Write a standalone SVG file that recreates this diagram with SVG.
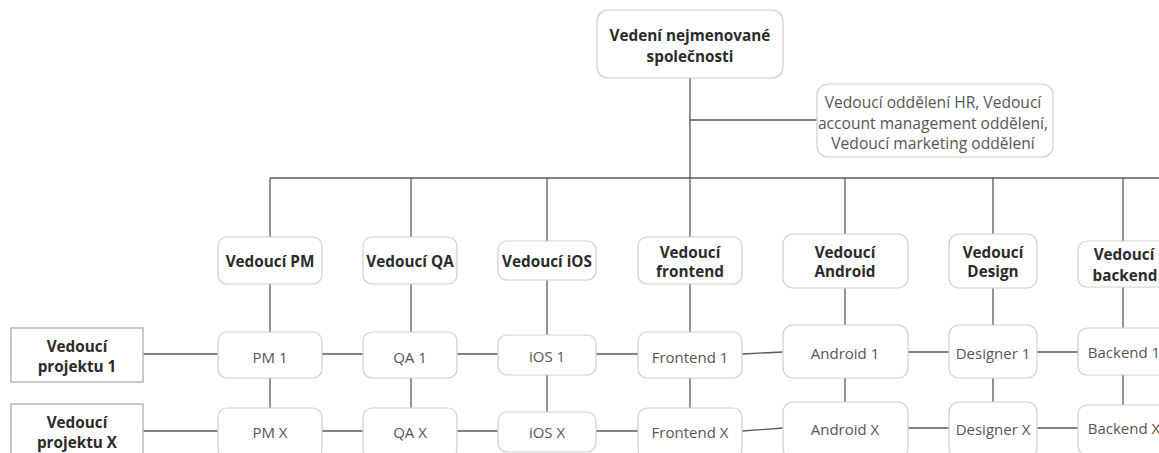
<svg xmlns="http://www.w3.org/2000/svg" width="1159" height="453" viewBox="0 0 1159 453">
<style>
.n rect{fill:#fff;stroke:#cfcfcf;stroke-width:1.2}
.p rect{fill:#fff;stroke:#b8b8b8;stroke-width:1.5}
text{font-family:"Open Sans","Noto Sans",sans-serif;font-size:15px;text-anchor:middle;dominant-baseline:central}
.b{font-weight:bold;fill:#2b2b2b;font-size:15.3px}
.r{fill:#555}
.h{font-size:15.6px}
#connectors path{fill:none;stroke:#5a5a5a;stroke-width:1.3}
</style>
<rect width="1159" height="453" fill="#fff"/>
<g id="connectors">
<path d="M690 78V178M690 120H817"/>
<path d="M270 178H1159"/>
<path d="M270 178V237M411 178V237M547 178V241M690 178V237M845 178V234M993 178V234M1123 178V241"/>
<path d="M270 284V332M411 284V332M547 280V335M690 284V332M845 288V325M993 288V325M1123 287V328"/>
<path d="M270 378V408M411 378V408M547 375V412M690 378V408M845 378V402M993 378V402M1123 375V405"/>
<path d="M143 354H218M322 354H363M457 354H498M596 354H638M742 354L783 352M908 352H949M1037 352H1078"/>
<path d="M143 431H218M322 431H363M457 431H498M596 431H638M742 431L783 428M908 428H949M1037 428H1078"/>
</g>
<g id="top" class="n"><rect x="597" y="10" width="186" height="68" rx="11"/><text class="b" x="690" y="35">Vedení nejmenované</text><text class="b" x="690" y="56">společnosti</text></g>
<g id="hr" class="n"><rect x="817" y="84" width="236" height="73" rx="11"/><text class="r h" x="933" y="102">Vedoucí oddělení HR, Vedoucí</text><text class="r h" x="933" y="122.5">account management oddělení,</text><text class="r h" x="933" y="143">Vedoucí marketing oddělení</text></g>
<g id="h-pm" class="n"><rect x="218" y="237" width="104" height="47" rx="9"/><text class="b" x="270" y="261">Vedoucí PM</text></g>
<g id="h-qa" class="n"><rect x="363" y="237" width="94" height="47" rx="9"/><text class="b" x="410" y="261">Vedoucí QA</text></g>
<g id="h-ios" class="n"><rect x="498" y="241" width="98" height="39" rx="9"/><text class="b" x="547" y="260.5">Vedoucí iOS</text></g>
<g id="h-fe" class="n"><rect x="638" y="237" width="104" height="47" rx="9"/><text class="b" x="690" y="251.5">Vedoucí</text><text class="b" x="690" y="271">frontend</text></g>
<g id="h-and" class="n"><rect x="783" y="234" width="125" height="54" rx="10"/><text class="b" x="845" y="251.5">Vedoucí</text><text class="b" x="845" y="271">Android</text></g>
<g id="h-des" class="n"><rect x="949" y="234" width="88" height="54" rx="10"/><text class="b" x="993" y="251.5">Vedoucí</text><text class="b" x="993" y="271">Design</text></g>
<g id="h-be" class="n"><rect x="1078" y="241" width="96" height="46" rx="9"/><text class="b" x="1124" y="253.5">Vedoucí</text><text class="b" x="1125" y="275">backend</text></g>
<g id="proj1" class="p"><rect x="11" y="328" width="132" height="54"/><text class="b" x="77" y="346">Vedoucí</text><text class="b" x="77" y="366">projektu 1</text></g>
<g id="pm1" class="n"><rect x="218" y="332" width="104" height="46" rx="9"/><text class="r" x="270" y="356.5">PM 1</text></g>
<g id="qa1" class="n"><rect x="363" y="332" width="94" height="46" rx="9"/><text class="r" x="410" y="356.5">QA 1</text></g>
<g id="ios1" class="n"><rect x="498" y="335" width="98" height="40" rx="9"/><text class="r" x="547" y="355.5">iOS 1</text></g>
<g id="fe1" class="n"><rect x="638" y="332" width="104" height="46" rx="9"/><text class="r" x="690" y="356.5">Frontend 1</text></g>
<g id="and1" class="n"><rect x="783" y="325" width="125" height="53" rx="10"/><text class="r" x="845" y="352.5">Android 1</text></g>
<g id="des1" class="n"><rect x="949" y="325" width="88" height="53" rx="10"/><text class="r" x="993" y="352.5">Designer 1</text></g>
<g id="be1" class="n"><rect x="1078" y="328" width="96" height="47" rx="9"/><text class="r" x="1124" y="352">Backend 1</text></g>
<g id="projX" class="p"><rect x="11" y="404" width="132" height="60"/><text class="b" x="77" y="422">Vedoucí</text><text class="b" x="77" y="442">projektu X</text></g>
<g id="pmX" class="n"><rect x="218" y="408" width="104" height="50" rx="9"/><text class="r" x="270" y="432">PM X</text></g>
<g id="qaX" class="n"><rect x="363" y="408" width="94" height="50" rx="9"/><text class="r" x="410" y="432">QA X</text></g>
<g id="iosX" class="n"><rect x="498" y="412" width="98" height="40" rx="9"/><text class="r" x="547" y="432">iOS X</text></g>
<g id="feX" class="n"><rect x="638" y="408" width="104" height="50" rx="9"/><text class="r" x="690" y="432">Frontend X</text></g>
<g id="andX" class="n"><rect x="783" y="402" width="125" height="56" rx="10"/><text class="r" x="845" y="428.5">Android X</text></g>
<g id="desX" class="n"><rect x="949" y="402" width="88" height="56" rx="10"/><text class="r" x="993" y="428.5">Designer X</text></g>
<g id="beX" class="n"><rect x="1078" y="405" width="96" height="50" rx="9"/><text class="r" x="1124" y="428">Backend X</text></g>
</svg>
